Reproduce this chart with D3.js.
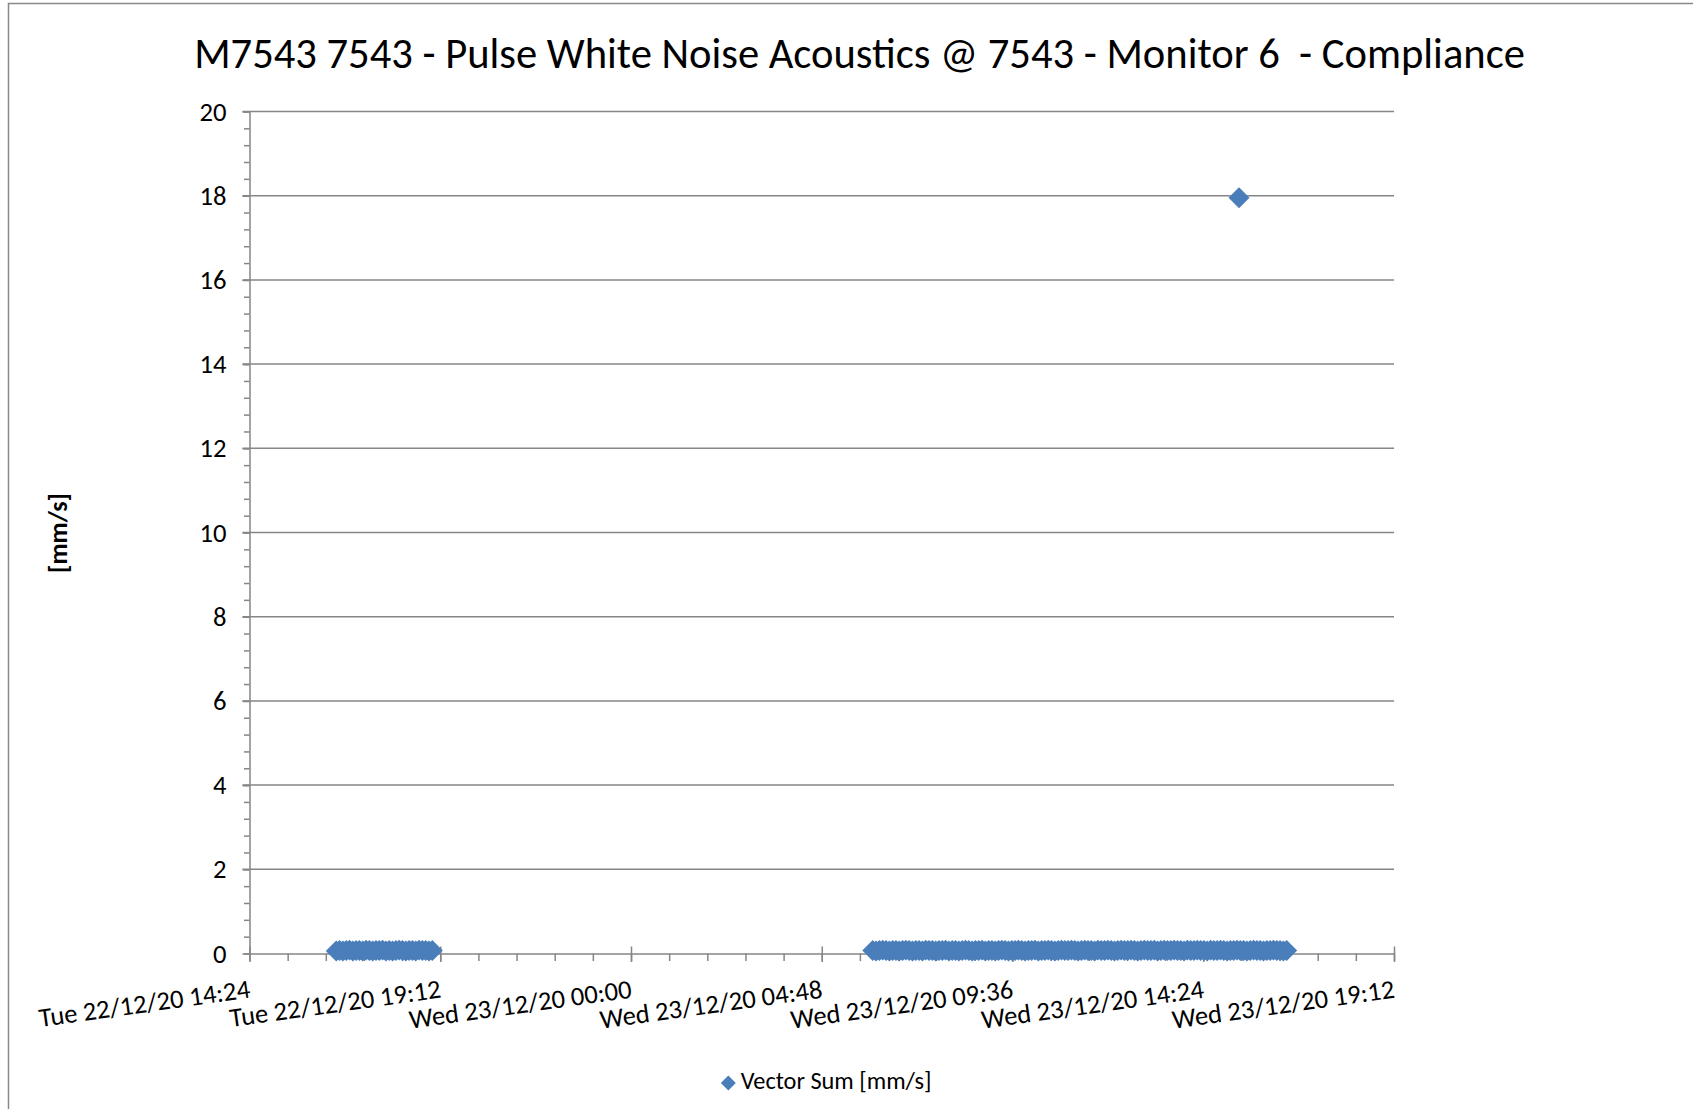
<!DOCTYPE html>
<meta charset="utf-8">
<style>
body { margin: 0; background: #fff; }
text { font-family: Carlito, Calibri, Lato, sans-serif; fill: #000; }
.grid line { stroke: #868686; stroke-width: 1.5px; }
.axis path, .axis line { stroke: #868686; stroke-width: 1.5px; }
.axis text { fill: #000; }
</style>
<body>
<script src="https://d3js.org/d3.v7.min.js"></script>
<script>

// chart text
var title = "M7543 7543 - Pulse White Noise Acoustics @ 7543 - Monitor 6  - Compliance";
var yTitle = "[mm/s]";
var seriesName = "Vector Sum [mm/s]";

// tick labels
var xTicks = ["2020-12-22T14:24", "2020-12-22T19:12", "2020-12-23T00:00", "2020-12-23T04:48",
              "2020-12-23T09:36", "2020-12-23T14:24", "2020-12-23T19:12"];
var yTicks = [0, 2, 4, 6, 8, 10, 12, 14, 16, 18, 20];

// logger runs (one reading every 5 minutes from the start time)
var logInterval = 5;
var run1Start = "2020-12-22T16:35";
var run1Values = [0.06, 0.07, 0.06, 0.07, 0.08, 0.06, 0.07, 0.07, 0.06, 0.08,
                  0.07, 0.06, 0.07, 0.07, 0.08, 0.06, 0.07, 0.06, 0.07, 0.08,
                  0.07, 0.06, 0.07, 0.07, 0.06, 0.08, 0.07, 0.07, 0.06, 0.07];
var run2Start = "2020-12-23T06:05";
var run2Values = [0.07, 0.06, 0.07, 0.08, 0.07, 0.06, 0.07, 0.07, 0.06, 0.07,
                  0.08, 0.07, 0.06, 0.07, 0.07, 0.06, 0.08, 0.07, 0.07, 0.06,
                  0.07, 0.07, 0.08, 0.06, 0.07, 0.07, 0.06, 0.07, 0.08, 0.07,
                  0.06, 0.07, 0.07, 0.08, 0.06, 0.07, 0.07, 0.06, 0.07, 0.08,
                  0.07, 0.06, 0.07, 0.07, 0.08, 0.07, 0.06, 0.07, 0.07, 0.08,
                  0.06, 0.07, 0.07, 0.08, 0.07, 0.06, 0.07, 0.08, 0.07, 0.07,
                  0.08, 0.07, 0.06, 0.07, 0.08, 0.07, 0.07, 0.06, 0.08, 0.07,
                  0.07, 0.08, 0.07, 0.06, 0.07, 0.08, 0.07, 0.07, 0.08, 0.07,
                  0.06, 0.07, 0.08, 0.07, 0.07, 0.08, 0.06, 0.07, 0.08, 0.07,
                  0.07, 0.08, 0.07, 0.07, 0.06, 0.08, 0.07, 0.07, 0.08, 0.07,
                  0.07, 0.06, 0.08, 0.07, 0.07, 0.08, 0.07, 0.06, 0.07, 0.07,
                  0.08, 0.07, 0.07, 0.06, 0.07, 0.08, 0.07, 0.07, 0.06, 0.07,
                  0.07, 0.08, 0.07, 0.07, 0.06, 0.07];
// single event
var peakTime = "2020-12-23T15:18";
var peakValue = 17.95;

var parse = d3.utcParse("%Y-%m-%dT%H:%M");
var fmt = d3.utcFormat("%a %d/%m/%y %H:%M");

function runPoints(start, values) {
  var t0 = parse(start);
  return values.map(function(v, i) {
    return { t: d3.utcMinute.offset(t0, i * logInterval), v: v };
  });
}
var data = runPoints(run1Start, run1Values)
  .concat(runPoints(run2Start, run2Values))
  .concat([{ t: parse(peakTime), v: peakValue }]);

var W = 1693, H = 1109;
var plot = { left: 249.5, right: 1394, top: 111.5, bottom: 953.5 };

var svg = d3.select("body").append("svg")
    .attr("width", W)
    .attr("height", H);

// outer frame (only top and left edges are visible)
svg.append("path")
    .attr("d", "M8.5,1109V3.5H1693")
    .attr("fill", "none")
    .attr("stroke", "#898989")
    .attr("stroke-width", 1.5);

var tickDates = xTicks.map(parse);
var x = d3.scaleUtc().domain(d3.extent(tickDates)).range([plot.left, plot.right]);
var y = d3.scaleLinear().domain([0, 20]).range([plot.bottom, plot.top]);

// scale a text selection's font so the first item hits a width
function fit(sel, width) {
  var w = sel.node().getComputedTextLength();
  var fs = parseFloat(sel.style("font-size"));
  sel.style("font-size", (fs * width / w) + "px");
}

// horizontal gridlines
svg.append("g").attr("class", "grid")
  .selectAll("line")
  .data(yTicks.slice(1))
  .enter().append("line")
    .attr("x1", plot.left - 7).attr("x2", plot.right)
    .attr("y1", function(d) { return y(d); })
    .attr("y2", function(d) { return y(d); });

// y axis, minor ticks
var minorY = d3.range(0, 20.001, 0.4);
svg.append("g").attr("class", "axis")
    .attr("transform", "translate(" + plot.left + ",0)")
    .call(d3.axisLeft(y).tickValues(minorY).tickSize(5.5).tickFormat(""))
    .select(".domain").remove();

// y axis, major ticks + labels
var yAxis = svg.append("g").attr("class", "axis")
    .attr("transform", "translate(" + plot.left + ",0)")
    .call(d3.axisLeft(y).tickValues(yTicks).tickSizeInner(7).tickSizeOuter(0).tickPadding(16));
var yLabels = yAxis.selectAll("text").attr("font-family", null).style("font-size", "24px");
fit(yLabels.filter(function(d) { return d === 20; }), 27);
yLabels.style("font-size", yLabels.filter(function(d) { return d === 20; }).style("font-size"));

// x axis, minor ticks
var step = (tickDates[1] - tickDates[0]) / 5;
var minorX = d3.range(+tickDates[0], +tickDates[6] + 1, step).map(function(d) { return new Date(d); });
svg.append("g").attr("class", "axis")
    .attr("transform", "translate(0," + plot.bottom + ")")
    .call(d3.axisBottom(x).tickValues(minorX).tickSize(7.5).tickFormat(""))
    .select(".domain").remove();

// x axis, major ticks + slanted labels
var xAxis = svg.append("g").attr("class", "axis")
    .attr("transform", "translate(0," + plot.bottom + ")")
    .call(d3.axisBottom(x).tickValues(tickDates).tickSizeInner(8.5).tickSizeOuter(0).tickFormat(fmt));
xAxis.selectAll(".tick line").attr("y1", -7);
var xLabels = xAxis.selectAll("text")
    .attr("y", 0).attr("dy", 0)
    .attr("text-anchor", "end")
    .attr("transform", "translate(1,44) rotate(-8)")
    .attr("font-family", null)
    .style("font-size", "24px");
fit(d3.select(xLabels.node()), 213);
xLabels.style("font-size", d3.select(xLabels.node()).style("font-size"));

// markers
var diamond = d3.symbol().type(d3.symbolSquare).size(220);
svg.append("g")
  .selectAll("path")
  .data(data)
  .enter().append("path")
    .attr("d", diamond)
    .attr("fill", "#4A7EBB")
    .attr("transform", function(d) {
      return "translate(" + x(d.t) + "," + y(d.v) + ") rotate(45)";
    });

// title
var t = svg.append("text")
    .attr("x", 859.5).attr("y", 68)
    .attr("text-anchor", "middle")
    .style("font-size", "38px")
    .style("white-space", "pre")
    .text(title);
fit(t, 1331);

// y axis title
var yt = svg.append("text")
    .attr("transform", "translate(67,533) rotate(-90)")
    .attr("text-anchor", "middle")
    .style("font-weight", "bold")
    .style("font-size", "22px")
    .text(yTitle);
fit(yt, 80);

// legend
svg.append("path")
    .attr("d", d3.symbol().type(d3.symbolSquare).size(112))
    .attr("fill", "#4A7EBB")
    .attr("transform", "translate(728.3,1083) rotate(45)");
var lt = svg.append("text")
    .attr("x", 740.7).attr("y", 1089.3)
    .style("font-size", "22px")
    .text(seriesName);
fit(lt, 191);

</script>
</body>
